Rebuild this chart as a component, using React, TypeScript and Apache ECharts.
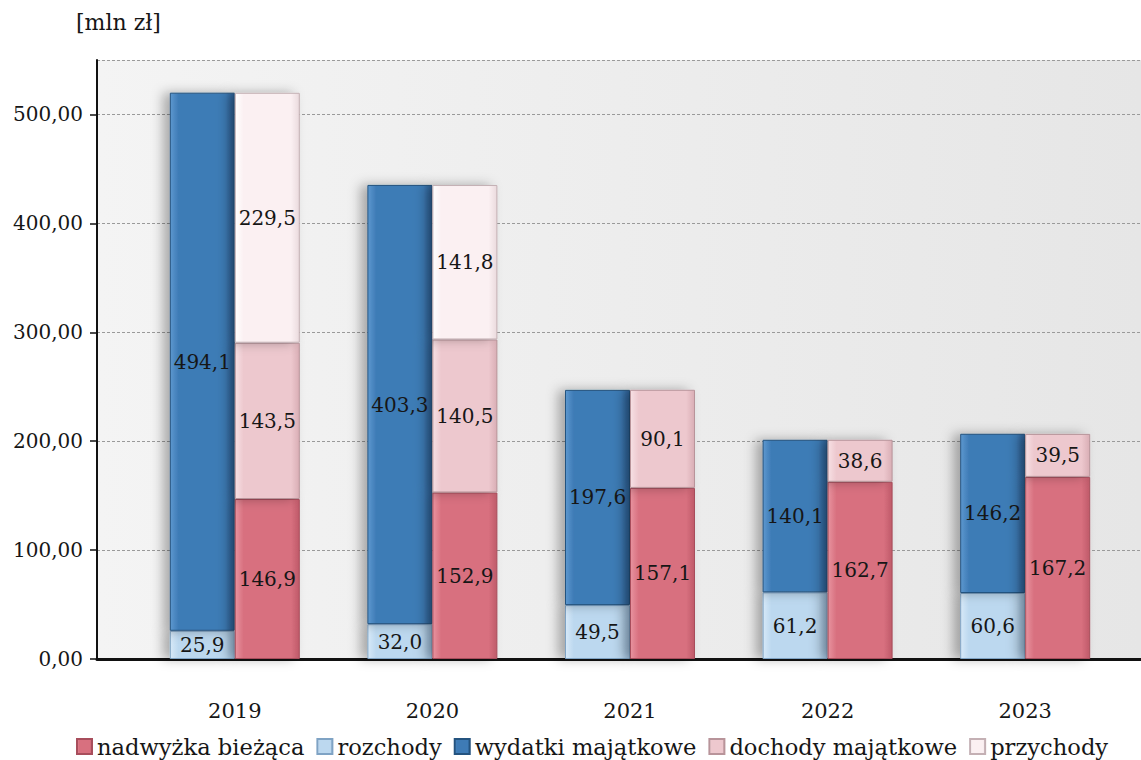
import { useEffect, useRef } from "react";
import * as echarts from "echarts";

const years = ["2019", "2020", "2021", "2022", "2023"];
const rozchody = [25.9, 32.0, 49.5, 61.2, 60.6];
const wydatki = [494.1, 403.3, 197.6, 140.1, 146.2];
const nadwyzka = [146.9, 152.9, 157.1, 162.7, 167.2];
const dochody = [143.5, 140.5, 90.1, 38.6, 39.5];
const przychody = [229.5, 141.8, 0, 0, 0];
const legendNames = ["nadwyżka bieżąca", "rozchody", "wydatki majątkowe", "dochody majątkowe", "przychody"];
const yMin = 0;
const yMax = 550;
const yStep = 100;

const FONT = "DejaVu Serif";

function bevel(light: string, base: string, dark: string) {
  return new echarts.graphic.LinearGradient(0, 0, 1, 0, [
    { offset: 0, color: light },
    { offset: 0.13, color: base },
    { offset: 0.87, color: base },
    { offset: 1, color: dark },
  ]);
}

const fmt1 = (v: number) => v.toFixed(1).replace(".", ",");
const fmt2 = (v: number) => v.toFixed(2).replace(".", ",");

export default function App() {
  const ref = useRef<HTMLDivElement>(null);
  useEffect(() => {
    if (!ref.current) return;
    const chart = echarts.init(ref.current, undefined, { renderer: "svg" });
    const mk = (
      name: string,
      stack: string,
      values: number[],
      light: string,
      base: string,
      dark: string,
      border: string
    ) => ({
      name,
      type: "bar",
      stack,
      xAxisIndex: 1,
      yAxisIndex: 1,
      barWidth: 65,
      barGap: "0%",
      data: values.map((v) => (v === 0 ? null : v)),
      itemStyle: {
        color: bevel(light, base, dark),
        borderColor: border,
        borderWidth: 1,
        shadowColor: "rgba(0,0,0,0.3)",
        shadowBlur: 12,
        shadowOffsetX: -7,
        shadowOffsetY: 0,
      },
      label: {
        show: true,
        position: "inside",
        color: "#161616",
        fontFamily: FONT,
        fontSize: 20,
        formatter: (p: any) => (p.value ? fmt1(p.value) : ""),
      },
    });

    chart.setOption({
      animation: false,
      backgroundColor: "#ffffff",
      textStyle: { fontFamily: FONT },
      graphic: [
        {
          type: "text",
          left: 76,
          top: 11,
          style: { text: "[mln zł]", fontFamily: FONT, fontSize: 22, fill: "#161616" },
        },
      ],
      grid: [
        {
          left: 97,
          right: 0,
          top: 60,
          bottom: 101,
          show: true,
          borderWidth: 0,
          backgroundColor: new echarts.graphic.LinearGradient(0, 0, 1, 0, [
            { offset: 0, color: "#f4f4f4" },
            { offset: 1, color: "#e6e6e6" },
          ]),
        },
        { left: 136, width: 988, top: 60, bottom: 101 },
      ],
      xAxis: [
        {
          gridIndex: 0,
          type: "category",
          data: [""],
          axisLine: { show: true, lineStyle: { color: "#111", width: 3 } },
          axisTick: { show: false },
          axisLabel: { show: false },
          splitLine: { show: false },
        },
        {
          gridIndex: 1,
          type: "category",
          data: years,
          axisLine: { show: false },
          axisTick: { show: false },
          axisLabel: { color: "#161616", fontFamily: FONT, fontSize: 21, margin: 41 },
        },
      ],
      yAxis: [
        {
          gridIndex: 0,
          type: "value",
          min: yMin,
          max: yMax,
          interval: yStep,
          axisLine: { show: true, lineStyle: { color: "#111", width: 2 } },
          axisTick: { show: true, length: 7, lineStyle: { color: "#111", width: 1.5 } },
          axisLabel: {
            color: "#161616",
            fontFamily: FONT,
            fontSize: 20,
            margin: 14,
            showMaxLabel: false,
            formatter: (v: number) => fmt2(v),
          },
          splitLine: { show: true, lineStyle: { color: "#9a9a9a", type: [3, 2], width: 1 } },
        },
        {
          gridIndex: 1,
          type: "value",
          min: yMin,
          max: yMax,
          interval: yStep,
          show: false,
        },
      ],
      legend: {
        data: legendNames,
        left: 71,
        top: 730,
        icon: "rect",
        itemWidth: 15,
        itemHeight: 15,
        itemGap: 12,
        textStyle: { color: "#161616", fontFamily: FONT, fontSize: 22.6 },
      },
      series: [
        mk("rozchody", "L", rozchody, "#d7e9f8", "#bcd8ef", "#9fc0de", "#7fa3c4"),
        mk("wydatki majątkowe", "L", wydatki, "#5d98cf", "#3e7bb6", "#2d6298", "#24537f"),
        mk("nadwyżka bieżąca", "R", nadwyzka, "#e8939f", "#d8707f", "#bf5a69", "#a84e5c"),
        mk("dochody majątkowe", "R", dochody, "#f7e0e4", "#edc8ce", "#d9aeb5", "#b8949a"),
        mk("przychody", "R", przychody, "#ffffff", "#fbf0f2", "#eadadd", "#c4b0b4"),
      ],
    });
    return () => chart.dispose();
  }, []);
  return (
    <div
      ref={ref}
      style={{ position: "absolute", left: 0, top: 0, width: 1141, height: 760 }}
    />
  );
}
